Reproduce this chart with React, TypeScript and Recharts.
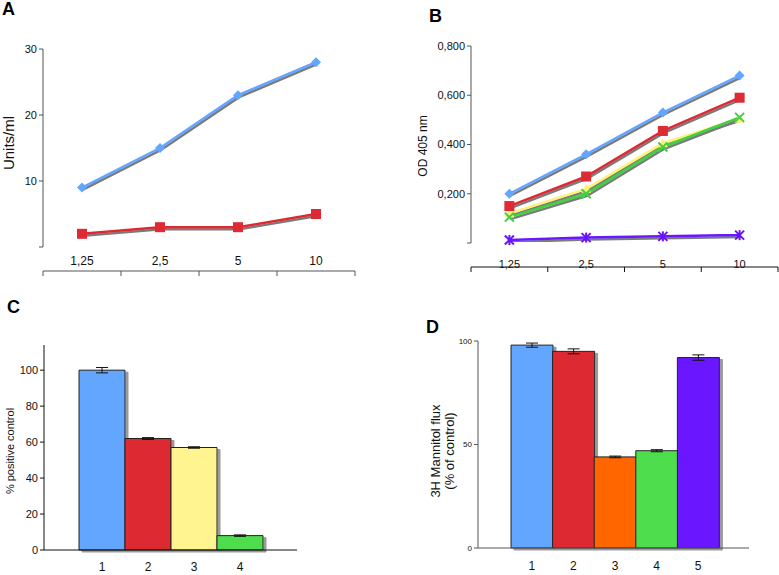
import React from 'react';
import { LineChart, Line, BarChart, Bar, XAxis, YAxis, Cell, ErrorBar } from 'recharts';

// concentration categories (panels A and B)
const doses = ['1,25', '2,5', '5', '10'];

// panel A, Units/ml
const unitsBlue = [9, 15, 23, 28];
const unitsRed = [2, 3, 3, 5];

// panel B, OD 405 nm
const odBlue = [0.2, 0.36, 0.53, 0.68];
const odRed = [0.15, 0.27, 0.455, 0.59];
const odYellow = [0.12, 0.22, 0.405, 0.505];
const odGreen = [0.105, 0.2, 0.39, 0.51];
const odPurple = [0.012, 0.022, 0.027, 0.032];

// panel C, % positive control
const cLabels = ['1', '2', '3', '4'];
const cValues = [100, 62, 57, 8];
const cErrors = [1.5, 0.5, 0.4, 0.4];
const cColors = ['#63a6ff', '#dd2a33', '#fff48f', '#4ddd4d'];

// panel D, 3H mannitol flux
const dLabels = ['1', '2', '3', '4', '5'];
const dValues = [98, 95, 44, 47, 92];
const dErrors = [1, 1.2, 0.4, 0.5, 1.3];
const dColors = ['#63a6ff', '#dd2a33', '#ff6600', '#4ddd4d', '#6a12ff'];

const FONT = '"Liberation Sans", Arial, sans-serif';

const aData = doses.map((d, i) => ({ x: i + 0.5, label: d, blue: unitsBlue[i], red: unitsRed[i] }));
const bData = doses.map((d, i) => ({
  x: i + 0.5, label: d, blue: odBlue[i], red: odRed[i], yellow: odYellow[i], green: odGreen[i], purple: odPurple[i],
}));
const cData = cLabels.map((l, i) => ({ name: l, value: cValues[i], err: cErrors[i] }));
const dData = dLabels.map((l, i) => ({ name: l, value: dValues[i], err: dErrors[i] }));

const Diamond = (color: string) => (p: any) => (
  <polygon key={p.index} points={`${p.cx},${p.cy - 5} ${p.cx + 5},${p.cy} ${p.cx},${p.cy + 5} ${p.cx - 5},${p.cy}`} fill={color} />
);
const Square = (color: string) => (p: any) => (
  <rect key={p.index} x={p.cx - 5} y={p.cy - 5} width={10} height={10} fill={color} />
);
const Triangle = (color: string) => (p: any) => (
  <polygon key={p.index} points={`${p.cx},${p.cy - 5} ${p.cx + 5},${p.cy + 4} ${p.cx - 5},${p.cy + 4}`} fill={color} />
);
const Cross = (color: string, star = false) => (p: any) => (
  <g key={p.index} stroke={color} strokeWidth={2}>
    <line x1={p.cx - 4.5} y1={p.cy - 4.5} x2={p.cx + 4.5} y2={p.cy + 4.5} />
    <line x1={p.cx - 4.5} y1={p.cy + 4.5} x2={p.cx + 4.5} y2={p.cy - 4.5} />
    {star && <line x1={p.cx} y1={p.cy - 5} x2={p.cx} y2={p.cy + 5} />}
  </g>
);

const shadowDefs = (
  <defs>
    <filter id="shadow" x="-10%" y="-10%" width="130%" height="140%">
      <feOffset in="SourceAlpha" dx="1" dy="2" result="off" />
      <feFlood floodColor="#7a7a7a" />
      <feComposite in2="off" operator="in" result="sh" />
      <feMerge>
        <feMergeNode in="sh" />
        <feMergeNode in="SourceGraphic" />
      </feMerge>
    </filter>
    <filter id="barshadow" x="-10%" y="-10%" width="130%" height="130%">
      <feOffset in="SourceAlpha" dx="3" dy="2" result="off" />
      <feFlood floodColor="#9a9a9a" />
      <feComposite in2="off" operator="in" result="sh" />
      <feMerge>
        <feMergeNode in="sh" />
        <feMergeNode in="SourceGraphic" />
      </feMerge>
    </filter>
  </defs>
);

const panelLetter = (text: string, left: number, top: number) => (
  <div style={{ position: 'absolute', left, top, fontFamily: FONT, fontWeight: 'bold', fontSize: 18 }}>{text}</div>
);

// rotated axis title, placed in the chart's own svg coordinates
// (tx/ty, since recharts overwrites x and y on label elements)
const YTitle = ({ lines, tx, ty, size, gap = 13 }: any) => (
  <g>
    {lines.map((t: string, i: number) => (
      <text key={i} x={tx + i * gap} y={ty} transform={`rotate(-90 ${tx + i * gap} ${ty})`} textAnchor="middle"
        dominantBaseline="central" fontSize={size} fontFamily={FONT} fill="#111">{t}</text>
    ))}
  </g>
);

const catTick = (labels: string[], fontSize: number, dy: number) => (p: any) => {
  const idx = Math.round(p.payload.value - 0.5);
  return (
    <text x={p.x} y={p.y + dy} textAnchor="middle" fontSize={fontSize} fontFamily={FONT} fill="#111">
      {labels[idx]}
    </text>
  );
};

export default function App() {
  return (
    <div style={{ position: 'absolute', left: 0, top: 0, width: 779, height: 575, background: '#fff', fontFamily: FONT }}>
      {/* Panel A */}
      {panelLetter('A', 2, -1)}
      <div style={{ position: 'absolute', left: 0, top: 0 }}>
        <LineChart width={390} height={290} data={aData} margin={{ top: 49, right: 35, bottom: 13, left: 0 }}>
          {shadowDefs}
          <XAxis xAxisId="t" dataKey="x" type="number" domain={[0, 4]} ticks={[0, 1, 2, 3, 4]} tickFormatter={() => ''}
            height={6} stroke="#555" tickSize={5} />
          <XAxis xAxisId="l" dataKey="x" type="number" domain={[0, 4]} ticks={[0.5, 1.5, 2.5, 3.5]}
            axisLine={false} tickLine={false} height={24} tick={catTick(doses, 12, 10)} />
          <YAxis domain={[0, 30]} ticks={[0, 10, 20, 30]} width={43} stroke="#555" tickSize={4}
            tick={{ fill: '#111', fontSize: 11, fontFamily: FONT }}
            tickFormatter={(v: number) => (v === 0 ? '' : String(v))}
            label={<YTitle lines={['Units/ml']} tx={8} ty={143} size={15} />} />
          <Line xAxisId="t" dataKey="blue" stroke="#63a6ff" strokeWidth={2.5} dot={Diamond('#63a6ff')} filter="url(#shadow)" isAnimationActive={false} />
          <Line xAxisId="t" dataKey="red" stroke="#dd2a33" strokeWidth={2.5} dot={Square('#dd2a33')} filter="url(#shadow)" isAnimationActive={false} />
        </LineChart>
      </div>

      {/* Panel B */}
      {panelLetter('B', 429, 6)}
      <div style={{ position: 'absolute', left: 390, top: 0 }}>
        <LineChart width={389} height={290} data={bData} margin={{ top: 46, right: 1, bottom: 17, left: 0 }}>
          {shadowDefs}
          <XAxis xAxisId="t" dataKey="x" type="number" domain={[0, 4]} ticks={[0, 1, 2, 3, 4]} tickFormatter={() => ''}
            height={6} stroke="#111" tickSize={5} />
          <XAxis xAxisId="l" dataKey="x" type="number" domain={[0, 4]} ticks={[0.5, 1.5, 2.5, 3.5]}
            axisLine={false} tickLine={false} height={24} tick={catTick(doses, 11, 17)} />
          <YAxis domain={[0, 0.8]} ticks={[0, 0.2, 0.4, 0.6, 0.8]} width={81} stroke="#555" tickSize={4}
            tick={{ fill: '#111', fontSize: 11, fontFamily: FONT }}
            tickFormatter={(v: number) => (v === 0 ? '' : v.toFixed(3).replace('.', ','))}
            label={<YTitle lines={['OD 405 nm']} tx={33} ty={146} size={12} />} />
          <Line xAxisId="t" dataKey="purple" stroke="#6a12ff" strokeWidth={2.5} dot={Cross('#6a12ff', true)} filter="url(#shadow)" isAnimationActive={false} />
          <Line xAxisId="t" dataKey="yellow" stroke="#fff07a" strokeWidth={2.5} dot={Triangle('#fff07a')} filter="url(#shadow)" isAnimationActive={false} />
          <Line xAxisId="t" dataKey="green" stroke="#3fd13f" strokeWidth={2.5} dot={Cross('#3fd13f')} filter="url(#shadow)" isAnimationActive={false} />
          <Line xAxisId="t" dataKey="red" stroke="#dd2a33" strokeWidth={2.5} dot={Square('#dd2a33')} filter="url(#shadow)" isAnimationActive={false} />
          <Line xAxisId="t" dataKey="blue" stroke="#63a6ff" strokeWidth={2.5} dot={Diamond('#63a6ff')} filter="url(#shadow)" isAnimationActive={false} />
        </LineChart>
      </div>

      {/* Panel C */}
      {panelLetter('C', 7, 297)}
      <div style={{ position: 'absolute', left: 0, top: 290 }}>
        <BarChart width={390} height={285} data={cData} margin={{ top: 55, right: 93, bottom: 0, left: 0 }}
          barCategoryGap={0}>
          {shadowDefs}
          <XAxis dataKey="name" padding={{ left: 35, right: 34 }} stroke="#111" tickLine={false} height={25}
            tick={{ fill: '#111', fontSize: 12, fontFamily: FONT }} tickMargin={6} />
          <YAxis domain={[0, 114]} ticks={[0, 20, 40, 60, 80, 100]} width={44} stroke="#111" tickSize={4}
            tick={{ fill: '#111', fontSize: 11, fontFamily: FONT }}
            label={<YTitle lines={['% positive control']} tx={10} ty={161} size={11} />} />
          <Bar dataKey="value" stroke="#222" strokeWidth={1} filter="url(#barshadow)" isAnimationActive={false}>
            {cData.map((_, i) => <Cell key={i} fill={cColors[i]} />)}
            <ErrorBar dataKey="err" width={6} stroke="#111" strokeWidth={1} />
          </Bar>
        </BarChart>
      </div>

      {/* Panel D */}
      {panelLetter('D', 426, 317)}
      <div style={{ position: 'absolute', left: 390, top: 290 }}>
        <BarChart width={389} height={285} data={dData} margin={{ top: 51, right: 30, bottom: 0, left: 0 }}
          barCategoryGap={0}>
          {shadowDefs}
          <XAxis dataKey="name" padding={{ left: 33, right: 30 }} stroke="#555" tickLine={false} height={27}
            tick={{ fill: '#111', fontSize: 12, fontFamily: FONT }} tickMargin={7} />
          <YAxis domain={[0, 100]} ticks={[0, 50, 100]} width={88} stroke="#555" tickSize={4}
            tick={{ fill: '#111', fontSize: 8, fontFamily: FONT }}
            label={<YTitle lines={['3H Mannitol flux', '(% of control)']} tx={45} ty={161} size={13} gap={14} />} />
          <Bar dataKey="value" stroke="#222" strokeWidth={1} filter="url(#barshadow)" isAnimationActive={false}>
            {dData.map((_, i) => <Cell key={i} fill={dColors[i]} />)}
            <ErrorBar dataKey="err" width={6} stroke="#111" strokeWidth={1} />
          </Bar>
        </BarChart>
      </div>
    </div>
  );
}
